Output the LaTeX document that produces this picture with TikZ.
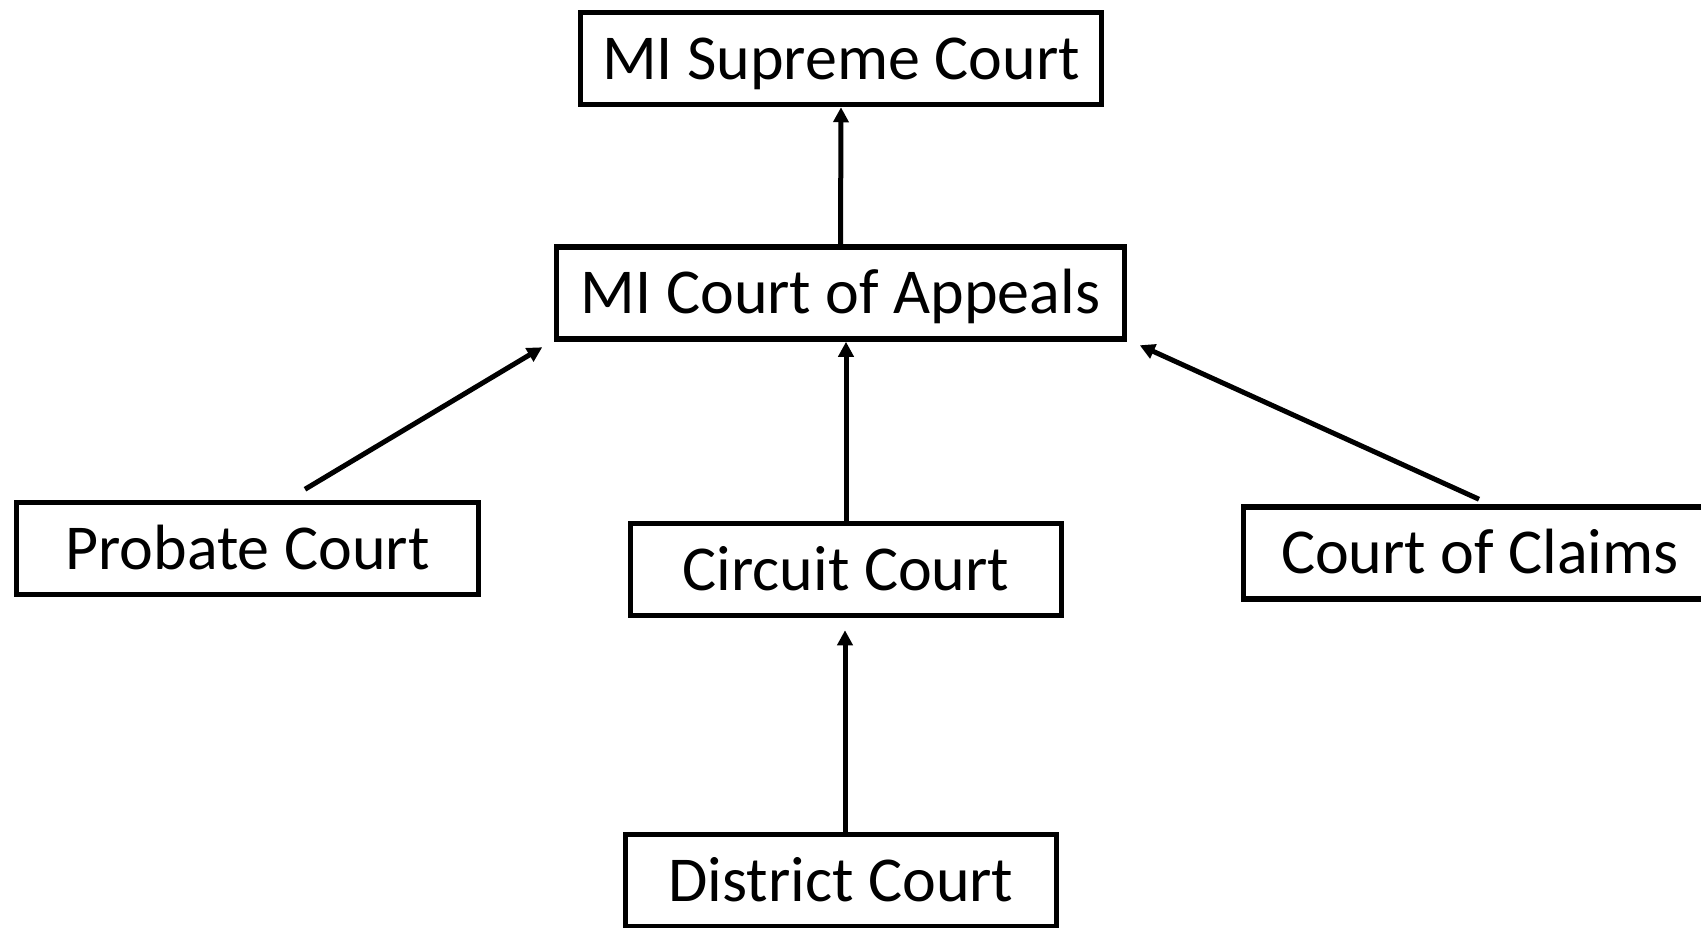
\documentclass[tikz,border=0pt]{standalone}
\usepackage{fontspec}
\setmainfont{Carlito}
\usetikzlibrary{arrows.meta,calc}
\begin{document}
\begin{tikzpicture}[x=1pt,y=-1pt,
  court/.style={draw,line width=5.5pt,inner sep=0pt,minimum height=92pt,
    text height=41pt,text depth=0pt,font=\fontsize{64}{72}\selectfont},
  arr/.style={line width=5pt,-{Triangle[length=15pt,width=15pt]}}]
\useasboundingbox (0,0) rectangle (1701,927);
\node[court,minimum width=521pt] (sup) at (841,58.5) {MI Supreme Court};
\node[court,minimum width=568pt] (app) at (840.5,293) {MI Court of Appeals};
\node[court,minimum width=462pt] (prob) at (247.5,548.5) {Probate Court};
\node[court,minimum width=431pt] (circ) at (846,569.5) {Circuit Court};
\node[court,minimum width=473pt] (claims) at (1480,553) {Court of Claims};
\node[court,minimum width=431pt] (dist) at (841,880.5) {District Court};
\draw[arr] (app.north) -- (sup.south);
\draw[arr] ($(prob.north)+(57.5,-10.5)$) -- ($(app.south west)+(-11.5,5.5)$);
\draw[arr] (circ.north) -- (circ.north |- app.south);
\draw[arr] ($(claims.north)+(-1,-5)$) -- ($(app.south east)+(12.5,3.5)$);
\draw[arr] ($(circ.south |- dist.north)+(-1,0)$) -- ($(circ.south)+(-1,12)$);
\end{tikzpicture}
\end{document}
